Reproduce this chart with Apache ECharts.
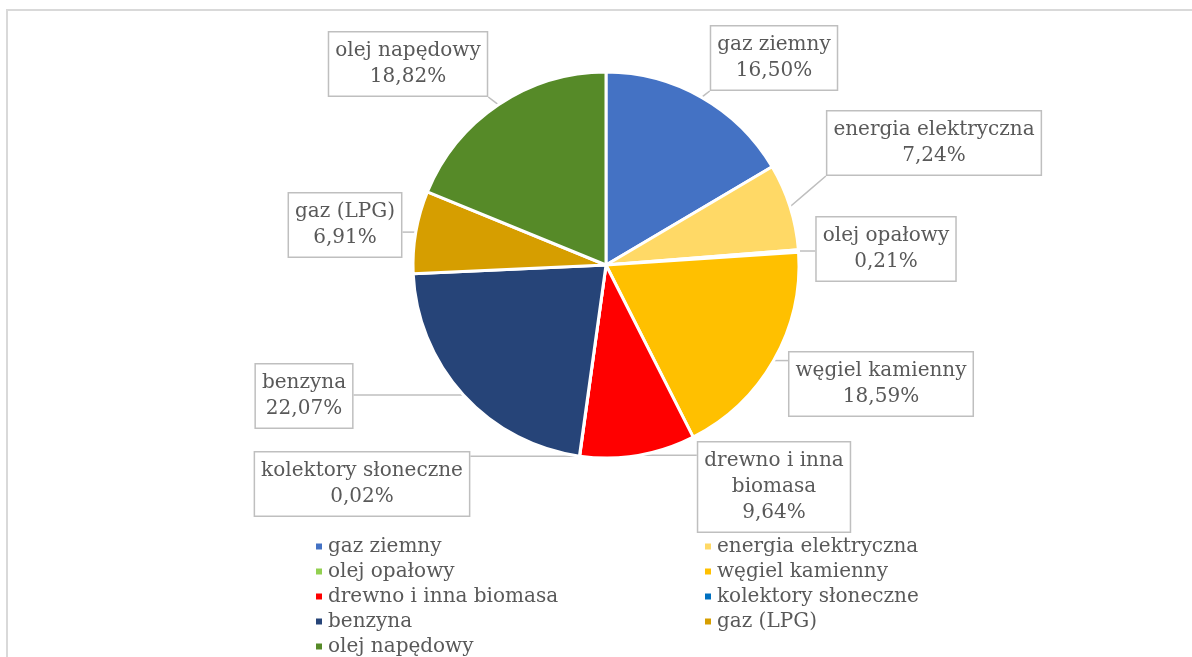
<!DOCTYPE html>
<html>
<head>
<meta charset="utf-8">
<script src="https://cdn.jsdelivr.net/npm/echarts@6/dist/echarts.min.js"></script>
<style>
  html, body { margin: 0; padding: 0; background: #fff; }
  #chart { width: 1192px; height: 657px; }
</style>
</head>
<body>
<div id="chart"></div>
<script>
  // dane
  var categories = ['gaz ziemny', 'energia elektryczna', 'olej opałowy', 'węgiel kamienny',
    'drewno i inna biomasa', 'kolektory słoneczne', 'benzyna', 'gaz (LPG)', 'olej napędowy'];
  var shares = [16.50, 7.24, 0.21, 18.59, 9.64, 0.02, 22.07, 6.91, 18.82];
  var colors = ['#4472C4', '#FFD966', '#92D050', '#FFC000', '#FF0000', '#0070C0', '#264478', '#D69E00', '#568A28'];

  // pozycje etykiet (środek ramki)
  var labelPos = [[774, 58], [934, 143], [886, 249], [881, 384], [774, 487],
    [362, 484], [304, 396], [345, 225], [408, 64]];

  var chart = echarts.init(document.getElementById('chart'));
  var font = 'DejaVu Serif';

  var data = categories.map(function(name, i) {
    return { name: name, value: shares[i], itemStyle: { color: colors[i] } };
  });

  // legenda w dwóch kolumnach
  function legendCol(left, odd) {
    return {
      orient: 'vertical',
      left: left,
      top: 531,
      height: 140,
      itemWidth: 8,
      itemHeight: 8,
      itemGap: 4,
      icon: 'rect',
      data: categories.filter(function(c, i) { return i % 2 === odd; }),
      formatter: '{t|{name}}',
      textStyle: {
        fontFamily: font, fontSize: 20, color: '#595959', lineHeight: 21,
        rich: { t: { fontFamily: font, fontSize: 20, color: '#595959', lineHeight: 21 } }
      }
    };
  }

  var option = {
    animation: false,
    textStyle: { fontFamily: font },
    graphic: [{
      type: 'rect',
      shape: { x: 7, y: 10, width: 1200, height: 700 },
      style: { fill: 'none', stroke: '#D9D9D9', lineWidth: 2 }
    }],
    legend: [legendCol(309, 0), legendCol(698, 1)],
    series: [{
      type: 'pie',
      center: [606, 265],
      radius: 193,
      startAngle: 90,
      clockwise: true,
      avoidLabelOverlap: false,
      itemStyle: { borderColor: '#fff', borderWidth: 3 },
      label: {
        show: true,
        fontFamily: font,
        fontSize: 20,
        lineHeight: 26,
        color: '#595959',
        align: 'center',
        backgroundColor: '#fff',
        borderColor: '#BFBFBF',
        borderWidth: 1.5,
        padding: [6, 6, 5, 6],
        formatter: function(p) {
          var name = p.name === 'drewno i inna biomasa' ? 'drewno i inna\nbiomasa' : p.name;
          return name + '\n' + p.value.toFixed(2).replace('.', ',') + '%';
        }
      },
      labelLine: {
        show: true,
        length: 10,
        length2: 10,
        lineStyle: { color: '#BFBFBF', width: 1.5 }
      },
      labelLayout: function(params) {
        var pos = labelPos[params.dataIndex];
        var r = params.labelRect;
        var x0 = pos[0] - r.width / 2, x1 = pos[0] + r.width / 2;
        var y0 = pos[1] - r.height / 2, y1 = pos[1] + r.height / 2;
        var tip = params.labelLinePoints ? params.labelLinePoints[0] : [pos[0], pos[1]];
        var tx = Math.min(Math.max(tip[0], x0), x1);
        var ty = Math.min(Math.max(tip[1], y0), y1);
        return {
          x: pos[0], y: pos[1], align: 'center', verticalAlign: 'middle',
          labelLinePoints: [tip, [(tip[0] + tx) / 2, (tip[1] + ty) / 2], [tx, ty]]
        };
      },
      emphasis: { disabled: true },
      data: data
    }]
  };

  chart.setOption(option);
</script>
</body>
</html>
